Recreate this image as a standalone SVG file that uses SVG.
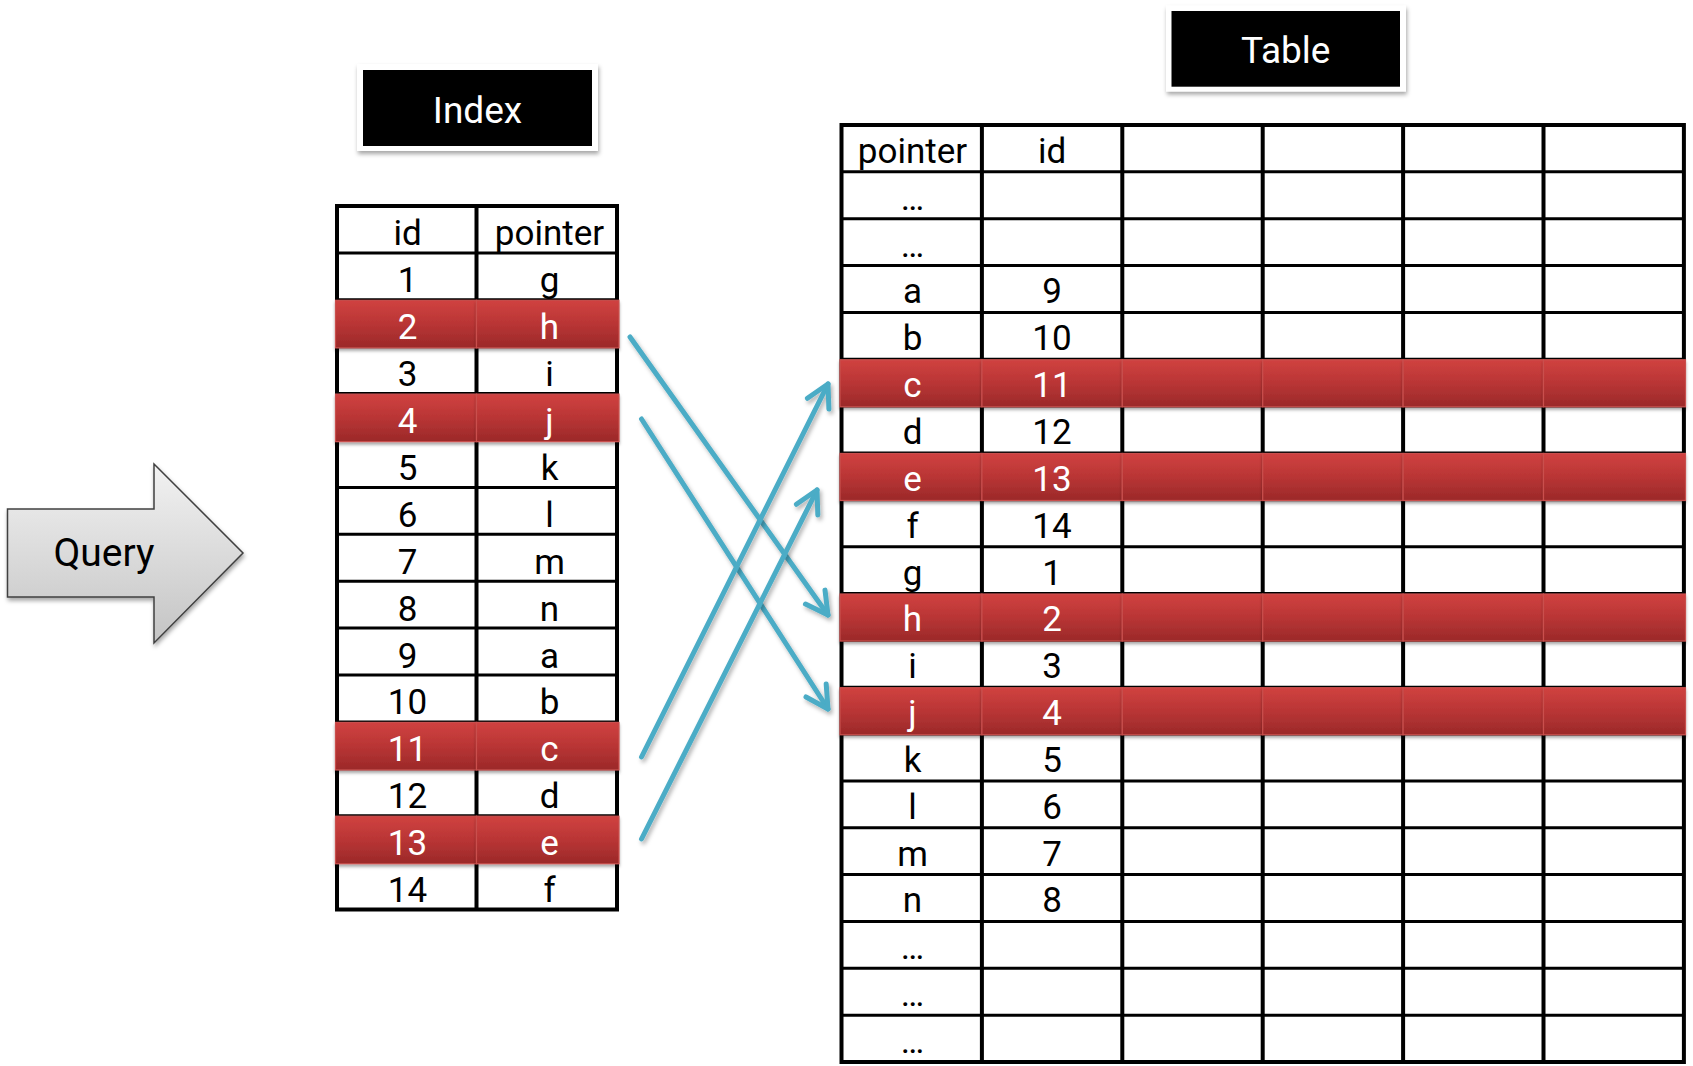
<svg xmlns="http://www.w3.org/2000/svg" width="1693" height="1066" viewBox="0 0 1693 1066">
<style>
  text { font-family: Roboto, "Liberation Sans", sans-serif; text-anchor: middle; }
  .c { font-size: 35px; fill: #000; }
  .w { font-size: 35px; fill: #fff; }
  .title { font-size: 37px; fill: #fff; }
  .grid { stroke: #000; fill: none; }
  .hl { stroke-width: 3; }
  .vl { stroke-width: 4; }
  .rc { fill: url(#red); stroke: #c9504e; stroke-width: 1.2; filter: url(#sh); }
  .conn { stroke: #4bacc6; stroke-width: 5; fill: none; stroke-linecap: round; marker-end: url(#ah); filter: url(#ash); }
</style>
<defs>
  <linearGradient id="red" x1="0" y1="0" x2="0" y2="1">
    <stop offset="0" stop-color="#d04240"/>
    <stop offset="0.5" stop-color="#b93535"/>
    <stop offset="1" stop-color="#9b2929"/>
  </linearGradient>
  <linearGradient id="gray" x1="0" y1="0" x2="0" y2="1">
    <stop offset="0" stop-color="#f2f2f2"/>
    <stop offset="1" stop-color="#c4c4c4"/>
  </linearGradient>
  <filter id="sh" x="-10%" y="-20%" width="120%" height="160%">
    <feDropShadow dx="0" dy="2.5" stdDeviation="1.5" flood-color="#000" flood-opacity="0.35"/>
  </filter>
  <filter id="ash" x="-20%" y="-20%" width="140%" height="140%">
    <feDropShadow dx="2" dy="3" stdDeviation="2" flood-color="#000" flood-opacity="0.3"/>
  </filter>
  <filter id="bsh" x="-10%" y="-10%" width="120%" height="130%">
    <feDropShadow dx="1" dy="3" stdDeviation="2" flood-color="#000" flood-opacity="0.35"/>
  </filter>
  <marker id="ah" markerUnits="userSpaceOnUse" orient="auto" refX="0" refY="0" markerWidth="60" markerHeight="60" viewBox="-30 -30 60 60" overflow="visible">
    <path d="M-22,-12 L0,0 L-22,12" fill="none" stroke="#4bacc6" stroke-width="5" stroke-linecap="round" stroke-linejoin="round"/>
  </marker>
</defs>
<rect width="1693" height="1066" fill="#fff"/>

<g id="query">
  <polygon points="7.5,509 154,509 154,464 243,553 154,643 154,597 7.5,597" fill="url(#gray)" stroke="#404040" stroke-width="1.5" filter="url(#bsh)"/>
  <text x="104" y="566" font-size="39" fill="#000">Query</text>
</g>

<g id="index-title">
  <rect x="357" y="64" width="241" height="87" fill="#fff" filter="url(#bsh)"/>
  <rect x="363" y="70" width="229" height="76" fill="#000"/>
  <text class="title" x="477.5" y="122.5">Index</text>
</g>

<g id="table-title">
  <rect x="1166" y="5.5" width="240" height="86" fill="#fff" filter="url(#bsh)"/>
  <rect x="1171.5" y="11" width="228.5" height="75.7" fill="#000"/>
  <text class="title" x="1285.7" y="63">Table</text>
</g>

<g id="index-table">
  <rect x="337" y="206" width="280" height="703.5" fill="#fff"/>
  <g class="grid hl">
    <line x1="337" y1="252.9" x2="617" y2="252.9"/>
    <line x1="337" y1="299.8" x2="617" y2="299.8"/>
    <line x1="337" y1="346.7" x2="617" y2="346.7"/>
    <line x1="337" y1="393.6" x2="617" y2="393.6"/>
    <line x1="337" y1="440.5" x2="617" y2="440.5"/>
    <line x1="337" y1="487.4" x2="617" y2="487.4"/>
    <line x1="337" y1="534.3" x2="617" y2="534.3"/>
    <line x1="337" y1="581.2" x2="617" y2="581.2"/>
    <line x1="337" y1="628.1" x2="617" y2="628.1"/>
    <line x1="337" y1="675" x2="617" y2="675"/>
    <line x1="337" y1="721.9" x2="617" y2="721.9"/>
    <line x1="337" y1="768.8" x2="617" y2="768.8"/>
    <line x1="337" y1="815.7" x2="617" y2="815.7"/>
    <line x1="337" y1="862.6" x2="617" y2="862.6"/>
  </g>
  <g class="grid vl">
    <line x1="476.5" y1="206" x2="476.5" y2="909.5"/>
    <rect x="337" y="206" width="280" height="703.5"/>
  </g>
  <g>
    <rect class="rc" x="335.5" y="300.3" width="141" height="47.5"/>
    <rect class="rc" x="476.5" y="300.3" width="142.5" height="47.5"/>
    <rect class="rc" x="335.5" y="394.1" width="141" height="47.5"/>
    <rect class="rc" x="476.5" y="394.1" width="142.5" height="47.5"/>
    <rect class="rc" x="335.5" y="722.4" width="141" height="47.5"/>
    <rect class="rc" x="476.5" y="722.4" width="142.5" height="47.5"/>
    <rect class="rc" x="335.5" y="816.2" width="141" height="47.5"/>
    <rect class="rc" x="476.5" y="816.2" width="142.5" height="47.5"/>
  </g>
  <g>
    <text class="c" x="407.5" y="245.4">id</text><text class="c" x="549.5" y="245.4">pointer</text>
    <text class="c" x="407.5" y="292.3">1</text><text class="c" x="549.5" y="292.3">g</text>
    <text class="w" x="407.5" y="339.2">2</text><text class="w" x="549.5" y="339.2">h</text>
    <text class="c" x="407.5" y="386.1">3</text><text class="c" x="549.5" y="386.1">i</text>
    <text class="w" x="407.5" y="433">4</text><text class="w" x="549.5" y="433">j</text>
    <text class="c" x="407.5" y="479.9">5</text><text class="c" x="549.5" y="479.9">k</text>
    <text class="c" x="407.5" y="526.8">6</text><text class="c" x="549.5" y="526.8">l</text>
    <text class="c" x="407.5" y="573.7">7</text><text class="c" x="549.5" y="573.7">m</text>
    <text class="c" x="407.5" y="620.6">8</text><text class="c" x="549.5" y="620.6">n</text>
    <text class="c" x="407.5" y="667.5">9</text><text class="c" x="549.5" y="667.5">a</text>
    <text class="c" x="407.5" y="714.4">10</text><text class="c" x="549.5" y="714.4">b</text>
    <text class="w" x="407.5" y="761.3">11</text><text class="w" x="549.5" y="761.3">c</text>
    <text class="c" x="407.5" y="808.2">12</text><text class="c" x="549.5" y="808.2">d</text>
    <text class="w" x="407.5" y="855.1">13</text><text class="w" x="549.5" y="855.1">e</text>
    <text class="c" x="407.5" y="902">14</text><text class="c" x="549.5" y="902">f</text>
  </g>
</g>

<g id="data-table">
  <rect x="841.5" y="125" width="842.4" height="937" fill="#fff"/>
  <g class="grid hl">
    <line x1="841.5" y1="171.85" x2="1683.9" y2="171.85"/>
    <line x1="841.5" y1="218.7" x2="1683.9" y2="218.7"/>
    <line x1="841.5" y1="265.55" x2="1683.9" y2="265.55"/>
    <line x1="841.5" y1="312.4" x2="1683.9" y2="312.4"/>
    <line x1="841.5" y1="359.25" x2="1683.9" y2="359.25"/>
    <line x1="841.5" y1="406.1" x2="1683.9" y2="406.1"/>
    <line x1="841.5" y1="452.95" x2="1683.9" y2="452.95"/>
    <line x1="841.5" y1="499.8" x2="1683.9" y2="499.8"/>
    <line x1="841.5" y1="546.65" x2="1683.9" y2="546.65"/>
    <line x1="841.5" y1="593.5" x2="1683.9" y2="593.5"/>
    <line x1="841.5" y1="640.35" x2="1683.9" y2="640.35"/>
    <line x1="841.5" y1="687.2" x2="1683.9" y2="687.2"/>
    <line x1="841.5" y1="734.05" x2="1683.9" y2="734.05"/>
    <line x1="841.5" y1="780.9" x2="1683.9" y2="780.9"/>
    <line x1="841.5" y1="827.75" x2="1683.9" y2="827.75"/>
    <line x1="841.5" y1="874.6" x2="1683.9" y2="874.6"/>
    <line x1="841.5" y1="921.45" x2="1683.9" y2="921.45"/>
    <line x1="841.5" y1="968.3" x2="1683.9" y2="968.3"/>
    <line x1="841.5" y1="1015.15" x2="1683.9" y2="1015.15"/>
  </g>
  <g class="grid vl">
    <line x1="981.9" y1="125" x2="981.9" y2="1062"/>
    <line x1="1122.3" y1="125" x2="1122.3" y2="1062"/>
    <line x1="1262.7" y1="125" x2="1262.7" y2="1062"/>
    <line x1="1403.1" y1="125" x2="1403.1" y2="1062"/>
    <line x1="1543.5" y1="125" x2="1543.5" y2="1062"/>
    <rect x="841.5" y="125" width="842.4" height="937"/>
  </g>
  <g>
    <rect class="rc" x="840" y="359.75" width="141.9" height="47"/>
    <rect class="rc" x="981.9" y="359.75" width="140.4" height="47"/>
    <rect class="rc" x="1122.3" y="359.75" width="140.4" height="47"/>
    <rect class="rc" x="1262.7" y="359.75" width="140.4" height="47"/>
    <rect class="rc" x="1403.1" y="359.75" width="140.4" height="47"/>
    <rect class="rc" x="1543.5" y="359.75" width="142" height="47"/>

    <rect class="rc" x="840" y="453.45" width="141.9" height="47"/>
    <rect class="rc" x="981.9" y="453.45" width="140.4" height="47"/>
    <rect class="rc" x="1122.3" y="453.45" width="140.4" height="47"/>
    <rect class="rc" x="1262.7" y="453.45" width="140.4" height="47"/>
    <rect class="rc" x="1403.1" y="453.45" width="140.4" height="47"/>
    <rect class="rc" x="1543.5" y="453.45" width="142" height="47"/>

    <rect class="rc" x="840" y="594" width="141.9" height="47"/>
    <rect class="rc" x="981.9" y="594" width="140.4" height="47"/>
    <rect class="rc" x="1122.3" y="594" width="140.4" height="47"/>
    <rect class="rc" x="1262.7" y="594" width="140.4" height="47"/>
    <rect class="rc" x="1403.1" y="594" width="140.4" height="47"/>
    <rect class="rc" x="1543.5" y="594" width="142" height="47"/>

    <rect class="rc" x="840" y="687.7" width="141.9" height="47"/>
    <rect class="rc" x="981.9" y="687.7" width="140.4" height="47"/>
    <rect class="rc" x="1122.3" y="687.7" width="140.4" height="47"/>
    <rect class="rc" x="1262.7" y="687.7" width="140.4" height="47"/>
    <rect class="rc" x="1403.1" y="687.7" width="140.4" height="47"/>
    <rect class="rc" x="1543.5" y="687.7" width="142" height="47"/>
  </g>
  <g>
    <text class="c" x="912.5" y="162.85">pointer</text><text class="c" x="1052" y="162.85">id</text>
    <text class="c" x="912.5" y="209.7">…</text>
    <text class="c" x="912.5" y="256.55">…</text>
    <text class="c" x="912.5" y="303.4">a</text><text class="c" x="1052" y="303.4">9</text>
    <text class="c" x="912.5" y="350.25">b</text><text class="c" x="1052" y="350.25">10</text>
    <text class="w" x="912.5" y="397.1">c</text><text class="w" x="1052" y="397.1">11</text>
    <text class="c" x="912.5" y="443.95">d</text><text class="c" x="1052" y="443.95">12</text>
    <text class="w" x="912.5" y="490.8">e</text><text class="w" x="1052" y="490.8">13</text>
    <text class="c" x="912.5" y="537.65">f</text><text class="c" x="1052" y="537.65">14</text>
    <text class="c" x="912.5" y="584.5">g</text><text class="c" x="1052" y="584.5">1</text>
    <text class="w" x="912.5" y="631.35">h</text><text class="w" x="1052" y="631.35">2</text>
    <text class="c" x="912.5" y="678.2">i</text><text class="c" x="1052" y="678.2">3</text>
    <text class="w" x="912.5" y="725.05">j</text><text class="w" x="1052" y="725.05">4</text>
    <text class="c" x="912.5" y="771.9">k</text><text class="c" x="1052" y="771.9">5</text>
    <text class="c" x="912.5" y="818.75">l</text><text class="c" x="1052" y="818.75">6</text>
    <text class="c" x="912.5" y="865.6">m</text><text class="c" x="1052" y="865.6">7</text>
    <text class="c" x="912.5" y="912.45">n</text><text class="c" x="1052" y="912.45">8</text>
    <text class="c" x="912.5" y="959.3">…</text>
    <text class="c" x="912.5" y="1006.15">…</text>
    <text class="c" x="912.5" y="1053">…</text>
  </g>
</g>

<g id="connectors">
  <line class="conn" x1="630" y1="337" x2="828" y2="615"/>
  <line class="conn" x1="641.5" y1="419" x2="828" y2="709"/>
  <line class="conn" x1="641.5" y1="757" x2="828" y2="384"/>
  <line class="conn" x1="641.5" y1="839" x2="817" y2="490"/>
</g>
</svg>
